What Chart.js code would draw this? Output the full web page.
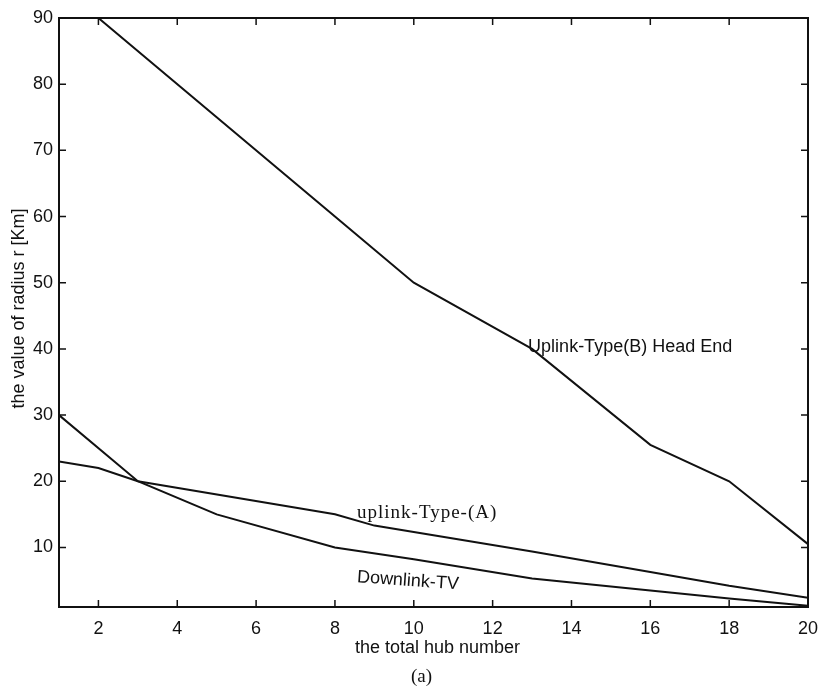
<!DOCTYPE html>
<html><head><meta charset="utf-8">
<script src="https://cdn.jsdelivr.net/npm/chart.js@4"></script>
<style>html,body{margin:0;padding:0;background:#fff}#wrap{width:823px;height:691px}</style>
</head><body><div id="wrap"><canvas id="c" width="823" height="691"></canvas></div>
<script>
const hubUplinkB = [2, 5, 8, 10, 13, 16, 18, 20];
const radiusUplinkB = [90, 75, 60, 50, 40, 25.5, 20, 10.5];
const hubUplinkA = [1, 2, 3, 8, 9, 13, 16, 18, 20];
const radiusUplinkA = [23, 22, 20, 15, 13.3, 9.4, 6.3, 4.2, 2.4];
const hubDownlink = [1, 3, 5, 8, 10, 13, 16, 18, 20];
const radiusDownlink = [30, 20, 15, 10, 8.2, 5.3, 3.5, 2.3, 1.2];
const xTicks = [2, 4, 6, 8, 10, 12, 14, 16, 18, 20];
const yTicks = [10, 20, 30, 40, 50, 60, 70, 80, 90];
const xLabel = 'the total hub number';
const yLabel = 'the value of radius r [Km]';
const caption = '(a)';
const seriesNames = ['Uplink-Type(B) Head End', 'uplink-Type-(A)', 'Downlink-TV'];
const nameAnchorX = [12.9, 8.56, 8.56];
const nameAnchorY = [40.3, 15.2, 5.5];

const toPts = (xs, ys) => xs.map((x, i) => ({x, y: ys[i]}));
const INK = '#111';
const SANS = '"Liberation Sans", Arial, sans-serif';
const SERIF = '"Liberation Serif", "Times New Roman", serif';

const framePlugin = {
  id: 'frame',
  afterDraw(chart) {
    const {ctx, chartArea: a, scales: {x, y}} = chart;
    ctx.save();
    ctx.strokeStyle = INK;
    ctx.lineWidth = 2;
    ctx.strokeRect(a.left, a.top, a.right - a.left, a.bottom - a.top);
    ctx.lineWidth = 1.5;
    const L = 7;
    xTicks.forEach(v => {
      const px = x.getPixelForValue(v);
      ctx.beginPath();
      ctx.moveTo(px, a.bottom); ctx.lineTo(px, a.bottom - L);
      ctx.moveTo(px, a.top); ctx.lineTo(px, a.top + L);
      ctx.stroke();
    });
    yTicks.forEach(v => {
      const py = y.getPixelForValue(v);
      ctx.beginPath();
      ctx.moveTo(a.left, py); ctx.lineTo(a.left + L, py);
      ctx.moveTo(a.right, py); ctx.lineTo(a.right - L, py);
      ctx.stroke();
    });
    ctx.fillStyle = INK;
    const cx = (a.left + a.right) / 2;
    ctx.font = '18px ' + SANS;
    ctx.textAlign = 'center';
    ctx.textBaseline = 'middle';
    ctx.fillText(xLabel, cx + 4, a.bottom + 41);
    ctx.save();
    ctx.translate(19, (a.top + a.bottom) / 2 - 4);
    ctx.rotate(-Math.PI / 2);
    ctx.fillText(yLabel, 0, 0);
    ctx.restore();
    ctx.font = '19px ' + SERIF;
    ctx.fillText(caption, cx - 12, a.bottom + 70);
    ctx.textAlign = 'left';
    ctx.font = '18px ' + SANS;
    ctx.fillText(seriesNames[0], x.getPixelForValue(nameAnchorX[0]), y.getPixelForValue(nameAnchorY[0]));
    ctx.font = '19px ' + SERIF;
    if ('letterSpacing' in ctx) ctx.letterSpacing = '1px';
    ctx.fillText(seriesNames[1], x.getPixelForValue(nameAnchorX[1]), y.getPixelForValue(nameAnchorY[1]));
    if ('letterSpacing' in ctx) ctx.letterSpacing = '0px';
    ctx.save();
    ctx.translate(x.getPixelForValue(nameAnchorX[2]), y.getPixelForValue(nameAnchorY[2]));
    ctx.rotate(4 * Math.PI / 180);
    ctx.font = '18px ' + SANS;
    ctx.fillText(seriesNames[2], 0, 0);
    ctx.restore();
    ctx.restore();
  }
};

const lineStyle = {borderColor: INK, borderWidth: 2, pointRadius: 0, tension: 0, fill: false};

new Chart(document.getElementById('c'), {
  type: 'line',
  data: {
    datasets: [
      {label: seriesNames[0], data: toPts(hubUplinkB, radiusUplinkB), ...lineStyle},
      {label: seriesNames[1], data: toPts(hubUplinkA, radiusUplinkA), ...lineStyle},
      {label: seriesNames[2], data: toPts(hubDownlink, radiusDownlink), ...lineStyle}
    ]
  },
  options: {
    responsive: false,
    animation: false,
    devicePixelRatio: 1,
    layout: {padding: {left: 0, top: 18, right: 15, bottom: 0}},
    plugins: {legend: {display: false}, tooltip: {enabled: false}, title: {display: false}},
    scales: {
      x: {
        type: 'linear', min: 1, max: 20,
        grid: {display: false, drawTicks: false},
        border: {display: false},
        afterBuildTicks(s) { s.ticks = xTicks.map(v => ({value: v})); },
        afterFit(s) { s.height = 84; s.paddingRight = 0; s.paddingLeft = 0; },
        ticks: {padding: 11, autoSkip: false, maxRotation: 0, color: INK, font: {family: SANS, size: 18}}
      },
      y: {
        type: 'linear', min: 1, max: 90,
        grid: {display: false, drawTicks: false},
        border: {display: false},
        afterBuildTicks(s) { s.ticks = yTicks.map(v => ({value: v})); },
        afterFit(s) { s.width = 59; s.paddingTop = 0; s.paddingBottom = 0; },
        ticks: {padding: 6, color: INK, font: {family: SANS, size: 18}}
      }
    }
  },
  plugins: [framePlugin]
});
</script></body></html>
